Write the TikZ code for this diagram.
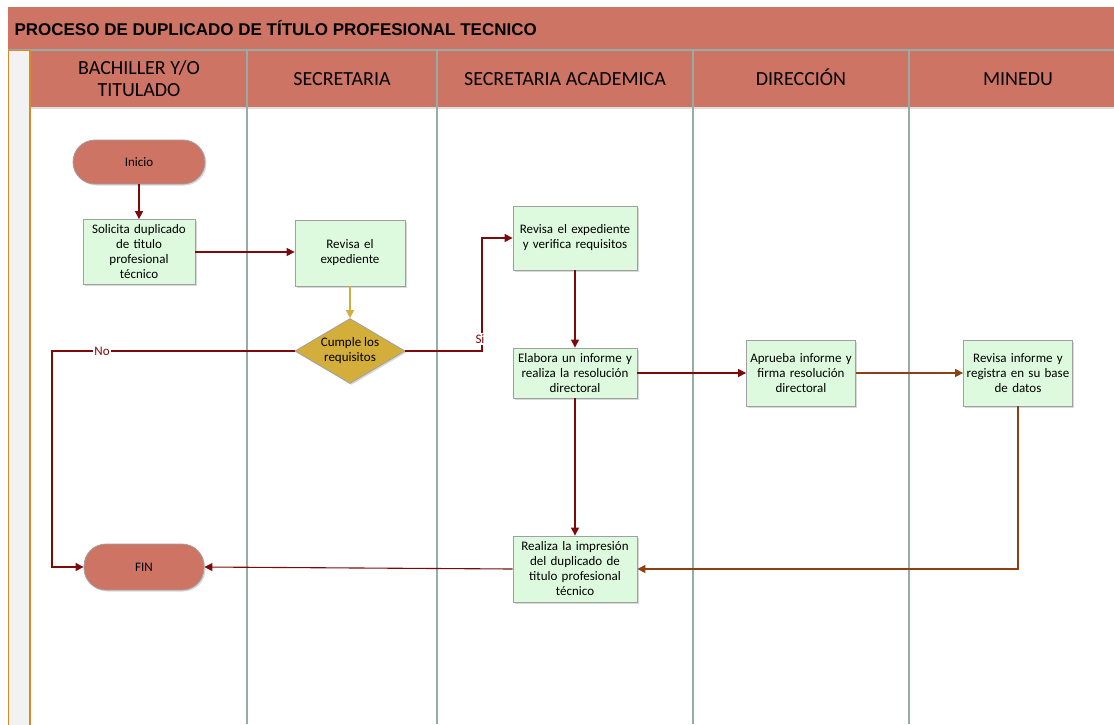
\documentclass[tikz,border=0pt]{standalone}
\usepackage{fontspec}
\setmainfont{Carlito}
\newfontfamily\titlefont{Liberation Sans}
\usetikzlibrary{shapes.geometric,arrows.meta,shadows}
\definecolor{band}{RGB}{206,116,101}
\definecolor{boxfill}{RGB}{222,250,222}
\definecolor{boxdraw}{RGB}{160,160,160}
\definecolor{goldc}{RGB}{212,174,58}
\definecolor{dred}{RGB}{125,10,10}
\definecolor{brn}{RGB}{140,65,20}
\definecolor{lanec}{RGB}{150,172,168}
\definecolor{stripc}{RGB}{242,242,242}
\definecolor{orng}{RGB}{217,137,42}
\begin{document}
\begin{tikzpicture}[x=1pt,y=-1pt,
  shd/.style={drop shadow={opacity=0.3,shadow xshift=1.5pt,shadow yshift=-1.5pt}},
  procbox/.style={draw=boxdraw,line width=0.8pt,fill=boxfill,align=center,inner sep=2pt,
    font=\fontsize{13}{15}\selectfont,shd},
  pill/.style={draw=boxdraw,line width=0.8pt,fill=band,rounded corners=22pt,
    font=\fontsize{13}{15}\selectfont,shd},
  decis/.style={diamond,aspect=1.7,draw=boxdraw,line width=0.8pt,fill=goldc,align=center,inner sep=0pt,
    font=\fontsize{13}{15}\selectfont,shd},
  hdr/.style={font=\fontsize{20}{22}\selectfont,align=center},
  lanel/.style={draw=lanec,line width=1.1pt},
  tip/.style={-{Triangle[length=8pt,width=8pt]}},
  dline/.style={draw=dred,line width=1.1pt,tip},
  gline/.style={draw=goldc,line width=1.1pt,tip},
  bline/.style={draw=brn,line width=1.1pt,tip},
  lbl/.style={text=dred,font=\fontsize{13}{15}\selectfont,inner sep=1pt,fill=white}
]
\useasboundingbox (0,0) rectangle (1114,724);
% title band
\fill[band] (8,7) rectangle (1114,50);
\node[anchor=west,font=\titlefont\bfseries\fontsize{17}{20}\selectfont] (title) at (11,28) {PROCESO DE DUPLICADO DE TÍTULO PROFESIONAL TECNICO};
% header band
\fill[band,drop shadow={opacity=0.25,shadow xshift=0pt,shadow yshift=-2pt}] (30,50) rectangle (1114,107);
\draw[lanel] (8,50) -- (1114,50);
% lane lines
\foreach \x in {247,437,693,909} { \draw[lanel] (\x,50) -- (\x,724); }
% left strip
\draw[draw=orng,fill=stripc,line width=1.6pt] (8.5,50.5) rectangle (30,726);
% headers
\node[hdr] (h1) at (139,79) {BACHILLER Y/O\\TITULADO};
\node[hdr,anchor=base] (h2) at (342,85) {SECRETARIA};
\node[hdr,anchor=base] (h3) at (565,85) {SECRETARIA ACADEMICA};
\node[hdr,anchor=base] (h4) at (801,85) {DIRECCIÓN};
\node[hdr,anchor=base] (h5) at (1018,85) {MINEDU};
% nodes
\node[pill,minimum width=132pt,minimum height=44pt] (ini) at (139,162) {Inicio};
\node[procbox,text width=108pt,minimum height=65pt] (sol) at (139,252) {Solicita duplicado\\de titulo\\profesional\\técnico};
\node[procbox,text width=106pt,minimum height=66pt] (rev) at (350,253) {Revisa el\\expediente};
\node[decis,minimum width=110pt,minimum height=65pt] (dia) at (350,351) {Cumple los\\requisitos};
\node[procbox,text width=120pt,minimum height=64pt] (ver) at (575,238) {Revisa el expediente\\y verifica requisitos};
\node[procbox,text width=120pt,minimum height=50pt] (ela) at (575,373) {Elabora un informe y\\realiza la resolución\\directoral};
\node[procbox,text width=105pt,minimum height=66pt] (apr) at (801,373) {Aprueba informe y\\firma resolución\\directoral};
\node[procbox,text width=105pt,minimum height=66pt] (min) at (1018,373) {Revisa informe y\\registra en su base\\de datos};
\node[procbox,text width=120pt,minimum height=66pt] (rea) at (575,569) {Realiza la impresión\\del duplicado de\\titulo profesional\\técnico};
\node[pill,minimum width=120pt,minimum height=46pt] (fin) at (144,567) {FIN};
% helper coordinates
\coordinate (sx) at (482,0);
\coordinate (nx) at (52,0);
\coordinate (mx) at (1018,569);
% connectors
\draw[dline] (ini) -- (sol);
\draw[dline] (sol.east) -- (sol.east -| rev.west);
\draw[gline] (rev) -- (dia);
\draw[dline] (dia.east) -| (sx |- ver.west) -- (ver.west);
\draw[dline] (dia.west) -| (nx |- fin.west) -- (fin.west);
\draw[dline] (ver) -- (ela);
\draw[dline] (ela.east) -- (ela.east -| apr.west);
\draw[bline] (apr.east) -- (apr.east -| min.west);
\draw[bline] (min.south) -- (mx) -- (rea.east |- mx);
\draw[dline] (ela) -- (rea);
\draw[dline] (rea.west) -- (fin.east);
% labels
\node[lbl] (nolab) at (102,351) {No};
\node[lbl] (silab) at (480,339) {Si};
\end{tikzpicture}
\end{document}
